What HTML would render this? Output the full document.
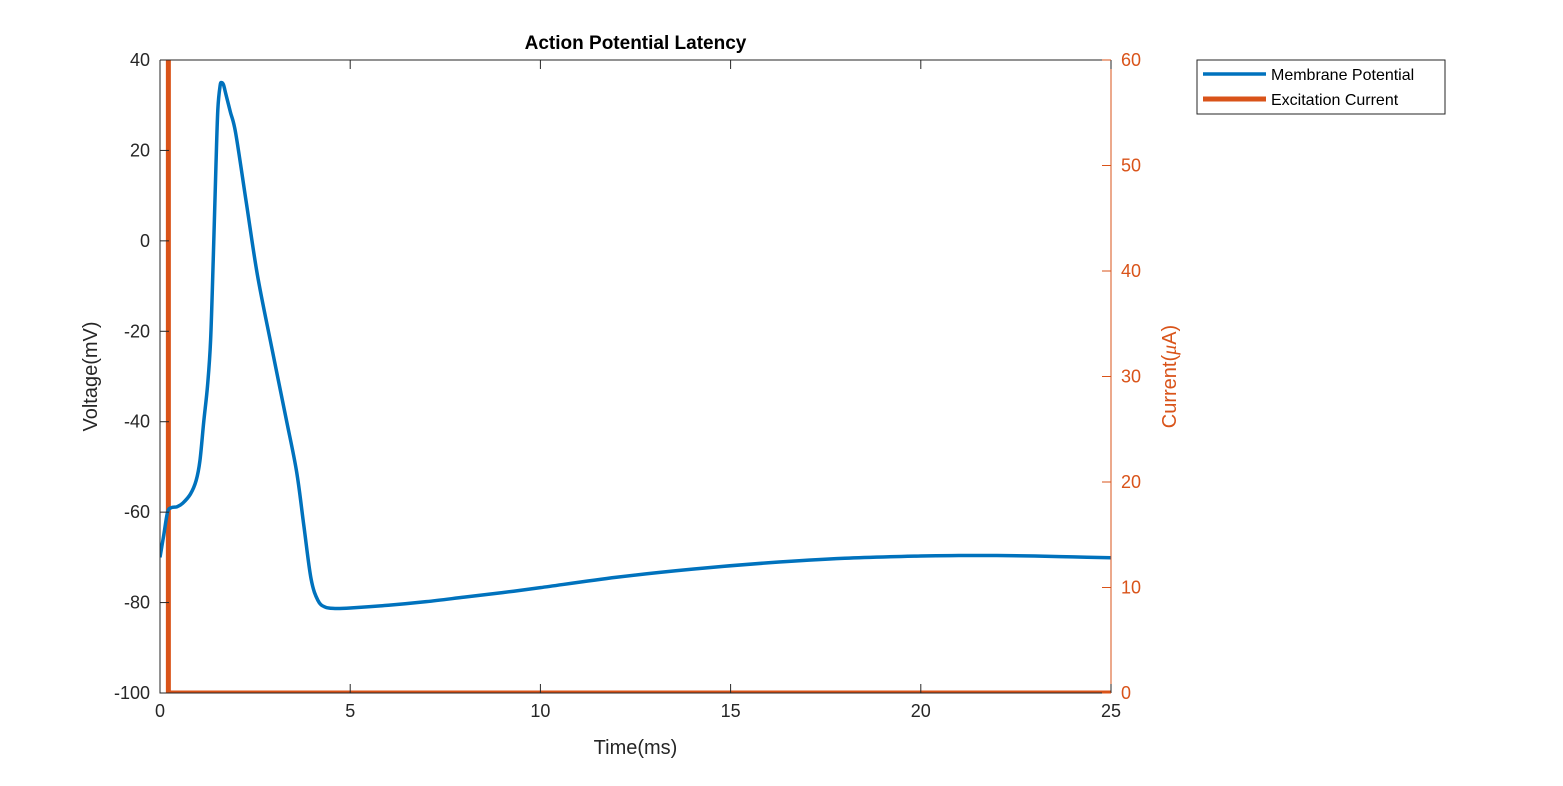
<!DOCTYPE html>
<html><head><meta charset="utf-8"><style>
body{margin:0;background:#fff;}
svg text{font-family:"Liberation Sans",Arial,sans-serif;}
</style></head><body>
<svg id="chart" width="1563" height="781" xmlns="http://www.w3.org/2000/svg">
<rect width="1563" height="781" fill="#fff"/>
<g id="g"></g>
</svg>
<script>
const timeMs=[0,0.1,0.2,0.3,0.45,0.6,0.8,0.95,1.05,1.15,1.25,1.33,1.4,1.47,1.52,1.58,1.62,1.67,1.73,1.85,1.99,2.27,2.56,2.93,3.31,3.59,3.78,3.97,4.15,4.34,4.6,5,6,7,8,9,10,12,14,16,18,20,21,22,23,24,25];
const voltage=[-70,-65,-60,-59,-58.8,-58,-56,-53,-48.6,-40,-32,-22,-4,16.4,29,34.3,35,34.5,32.5,28.5,23.8,8.4,-7.5,-23.3,-39.1,-51,-62.9,-74.7,-79.5,-81,-81.3,-81.2,-80.6,-79.8,-78.8,-77.8,-76.7,-74.4,-72.6,-71.2,-70.2,-69.7,-69.6,-69.6,-69.7,-69.9,-70.1];
const currentT=[0,0.22,0.22,25];
const currentV=[100,100,0,0];
const xTicks=[0,5,10,15,20,25];
const yTicks=[40,20,0,-20,-40,-60,-80,-100];
const y2Ticks=[0,10,20,30,40,50,60];

const L=160,R=1111,T=60,B=693;
const X=t=>L+(t/25)*(R-L);
const Y=v=>T+(40-v)/140*(B-T);
const Y2=v=>B-(v/60)*(B-T);
const ns="http://www.w3.org/2000/svg";
const g=document.getElementById('g');
function mk(tag,attrs,parent){const e=document.createElementNS(ns,tag);for(const k in attrs)e.setAttribute(k,attrs[k]);(parent||g).appendChild(e);return e;}
function smooth(p){let d=`M${p[0][0]},${p[0][1]}`;for(let i=0;i<p.length-1;i++){const p0=p[i-1]||p[i],p1=p[i],p2=p[i+1],p3=p[i+2]||p2;const c1=[p1[0]+(p2[0]-p0[0])/6,p1[1]+(p2[1]-p0[1])/6],c2=[p2[0]-(p3[0]-p1[0])/6,p2[1]-(p3[1]-p1[1])/6];d+=`C${c1[0]},${c1[1]} ${c2[0]},${c2[1]} ${p2[0]},${p2[1]}`;}return d;}

const defs=mk('defs',{});
const cp=mk('clipPath',{id:'clip'},defs);
mk('rect',{x:L,y:T,width:R-L,height:B-T},cp);

const cur=mk('polyline',{points:currentT.map((t,i)=>X(t)+','+Y2(currentV[i])).join(' '),fill:'none',stroke:'#D95319','stroke-width':5,'clip-path':'url(#clip)'});


const vl=mk('path',{d:smooth(timeMs.map((t,i)=>[X(t),Y(voltage[i])])),fill:'none',stroke:'#0072BD','stroke-width':3.5,'stroke-linejoin':'round','clip-path':'url(#clip)'});



const ax=mk('path',{d:`M${L},${T}H${R}M${L},${T}V${B}H${R}`,stroke:'#262626','stroke-width':1,fill:'none'});


const ax2=mk('line',{x1:R,y1:T,x2:R,y2:B,stroke:'#D95319','stroke-width':1});



xTicks.forEach(t=>{
  mk('line',{x1:X(t),y1:B,x2:X(t),y2:B-9,stroke:'#262626'});
  mk('line',{x1:X(t),y1:T,x2:X(t),y2:T+9,stroke:'#262626'});
  const tx=mk('text',{x:X(t),y:B+24,'font-size':18,'text-anchor':'middle',fill:'#262626'});tx.textContent=t;
  
  
});
yTicks.forEach(v=>{
  mk('line',{x1:L,y1:Y(v),x2:L+9,y2:Y(v),stroke:'#262626'});
  const tx=mk('text',{x:L-10,y:Y(v)+6,'font-size':18,'text-anchor':'end',fill:'#262626'});tx.textContent=v;
  
  
});
y2Ticks.forEach(v=>{
  mk('line',{x1:R,y1:Y2(v),x2:R-9,y2:Y2(v),stroke:'#D95319'});
  const tx=mk('text',{x:R+10,y:Y2(v)+6,'font-size':18,fill:'#D95319'});tx.textContent=v;
  
  
});

const title=mk('text',{x:(L+R)/2,y:49,'font-size':19,'font-weight':'bold','text-anchor':'middle',fill:'#000'});title.textContent='Action Potential Latency';


const xl=mk('text',{x:(L+R)/2,y:754,'font-size':20,'text-anchor':'middle',fill:'#262626'});xl.textContent='Time(ms)';


const yl=mk('text',{x:0,y:0,'font-size':20,'text-anchor':'middle',fill:'#262626',transform:`translate(97,${(T+B)/2}) rotate(-90)`});yl.textContent='Voltage(mV)';


const y2l=mk('text',{x:0,y:0,'font-size':20,'text-anchor':'middle',fill:'#D95319',transform:`translate(1176,${(T+B)/2}) rotate(-90)`});y2l.innerHTML='Current(<tspan font-style="italic" font-family="Liberation Serif">μ</tspan>A)';



const lg=mk('g',{});


mk('rect',{x:1197,y:60,width:248,height:54,fill:'#fff',stroke:'#262626','stroke-width':1},lg);
const e1=mk('g',{},lg);


mk('line',{x1:1203,y1:74,x2:1266,y2:74,stroke:'#0072BD','stroke-width':3.5},e1);
const t1=mk('text',{x:1271,y:80,'font-size':16,fill:'#000'},e1);t1.textContent='Membrane Potential';
const e2=mk('g',{},lg);


mk('line',{x1:1203,y1:99,x2:1266,y2:99,stroke:'#D95319','stroke-width':5},e2);
const t2=mk('text',{x:1271,y:105,'font-size':16,fill:'#000'},e2);t2.textContent='Excitation Current';
</script>
</body></html>
